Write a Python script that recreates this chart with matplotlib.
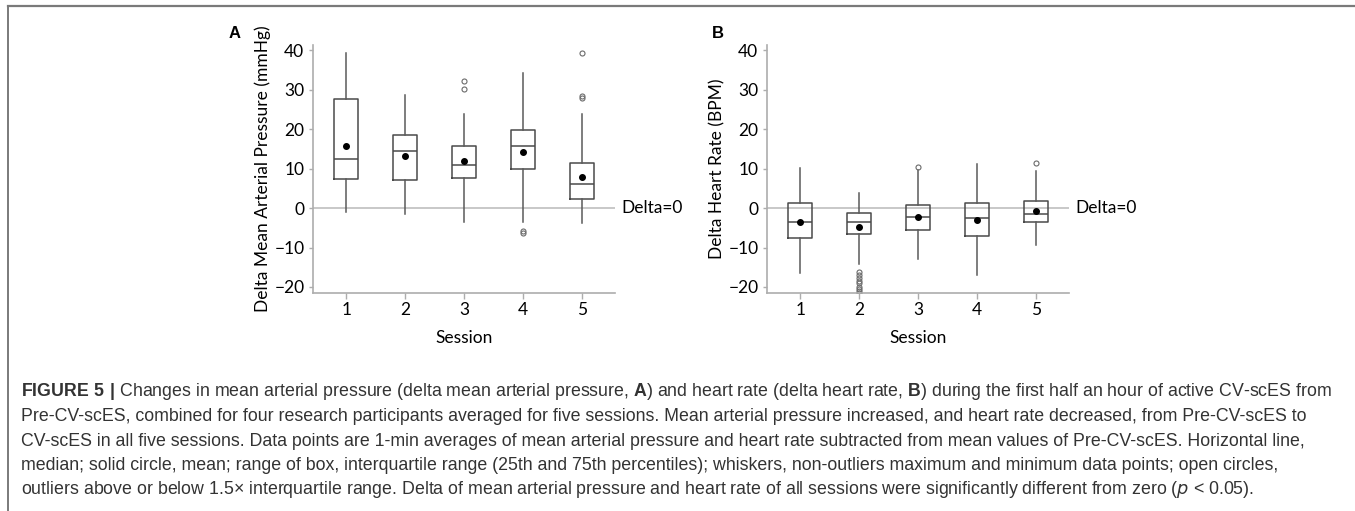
import matplotlib
matplotlib.use('Agg')
import matplotlib.pyplot as plt
import matplotlib.transforms as mtransforms
from matplotlib.lines import Line2D

# Box statistics (one value per session)
sessions = [1, 2, 3, 4, 5]

map_q1 = [7.3, 7.1, 7.7, 9.9, 2.3]
map_med = [12.5, 14.5, 10.9, 15.8, 6.1]
map_q3 = [27.5, 18.6, 15.6, 19.7, 11.5]
map_lo = [-1.0, -1.4, -3.5, -3.5, -3.9]
map_hi = [39.4, 28.7, 23.9, 34.3, 23.9]
map_mean = [15.8, 13.1, 11.9, 14.3, 7.8]
map_out = [[], [], [30.1, 32.3], [-5.7, -6.2], [28.0, 28.5, 39.4]]

hr_q1 = [-7.7, -6.5, -5.6, -7.1, -3.5]
hr_med = [-3.5, -3.5, -2.2, -2.5, -1.6]
hr_q3 = [1.3, -1.3, 0.7, 1.3, 1.7]
hr_lo = [-16.5, -14.1, -13.0, -16.9, -9.3]
hr_hi = [10.1, 3.9, 9.7, 11.1, 9.4]
hr_mean = [-3.5, -4.9, -2.2, -3.0, -0.7]
hr_out = [[], [-16.1, -16.9, -17.6, -18.4, -19.1, -19.9, -20.6, -21.0, -21.4],
          [10.4], [], [11.3]]

y_ticks = [-20, -10, 0, 10, 20, 30, 40]

caption_lines = [
    r'$\mathbf{FIGURE\ 5\ |}$ Changes in mean arterial pressure (delta mean arterial pressure, $\mathbf{A}$) '
    r'and heart rate (delta heart rate, $\mathbf{B}$) during the first half an hour of active CV-scES from',
    'Pre-CV-scES, combined for four research participants averaged for five sessions. Mean arterial pressure '
    'increased, and heart rate decreased, from Pre-CV-scES to',
    'CV-scES in all five sessions. Data points are 1-min averages of mean arterial pressure and heart rate '
    'subtracted from mean values of Pre-CV-scES. Horizontal line,',
    'median; solid circle, mean; range of box, interquartile range (25th and 75th percentiles); whiskers, '
    'non-outliers maximum and minimum data points; open circles,',
    'outliers above or below 1.5\u00d7 interquartile range. Delta of mean arterial pressure and heart rate of '
    r'all sessions were significantly different from zero ($\mathit{p}$ < 0.05).',
]

plt.rcParams['font.family'] = ['Lato', 'DejaVu Sans']
plt.rcParams['mathtext.fontset'] = 'custom'
plt.rcParams['mathtext.rm'] = 'Liberation Sans Narrow'
plt.rcParams['mathtext.bf'] = 'Liberation Sans:bold'
plt.rcParams['mathtext.it'] = 'Liberation Sans Narrow:italic'

W, H = 1355, 511
fig = plt.figure(figsize=(W / 100, H / 100), dpi=100)


def make_stats(q1, med, q3, lo, hi, mean, out):
    stats = []
    for i in range(len(q1)):
        stats.append({'q1': q1[i], 'med': med[i], 'q3': q3[i], 'whislo': lo[i],
                      'whishi': hi[i], 'mean': mean[i], 'fliers': out[i]})
    return stats


def draw_panel(ax, stats, ylabel, letter, letter_x):
    ax.axhline(0, color='#c8c8c8', lw=1.4, zorder=0)
    ax.bxp(stats, positions=sessions, widths=0.41, showcaps=False, showmeans=True,
           showfliers=True, patch_artist=False,
           boxprops=dict(color='#4a4a4a', lw=1.1),
           whiskerprops=dict(color='#5a5a5a', lw=1.1),
           medianprops=dict(color='#4a4a4a', lw=1.1),
           meanprops=dict(marker='o', markerfacecolor='black', markeredgecolor='black',
                          markersize=4.0),
           flierprops=dict(marker='o', markerfacecolor='none', markeredgecolor='#6a6a6a',
                           markersize=3.6, markeredgewidth=0.8))
    ax.set_xlim(0.43, 5.56)
    ax.set_ylim(-21.6, 41.3)
    ax.set_yticks(y_ticks)
    ax.set_xticks(sessions)
    ax.set_xticklabels([str(s) for s in sessions])
    for side in ['top', 'right']:
        ax.spines[side].set_visible(False)
    for side in ['left', 'bottom']:
        ax.spines[side].set_color('#adadad')
        ax.spines[side].set_linewidth(1.2)
    ax.tick_params(axis='x', length=4, width=1, color='#adadad', pad=2.5, labelsize=12.5)
    ax.tick_params(axis='y', length=3, width=1, color='#adadad', pad=3, labelsize=12.5)
    ax.set_ylabel(ylabel, fontsize=12.5)
    ax.yaxis.set_label_coords(-0.138, 0.5)
    ax.set_xlabel('Session', fontsize=12.5)
    ax.xaxis.set_label_coords(0.5, -0.148)
    trans = mtransforms.blended_transform_factory(ax.transAxes, ax.transData)
    ax.text(1.021, 0, 'Delta=0', transform=trans, va='center', ha='left', fontsize=12.5)
    ax.text(letter_x, 1.045, letter, transform=ax.transAxes, fontsize=12,
            fontweight='bold', family='Liberation Sans', ha='center', va='center')


axA = fig.add_axes([312.7 / W, 1 - 293.3 / H, 302.3 / W, 248.3 / H])
axB = fig.add_axes([766.7 / W, 1 - 293.3 / H, 302.6 / W, 248.3 / H])

draw_panel(axA, make_stats(map_q1, map_med, map_q3, map_lo, map_hi, map_mean, map_out),
           'Delta Mean Arterial Pressure (mmHg)', 'A', -0.26)
draw_panel(axB, make_stats(hr_q1, hr_med, hr_q3, hr_lo, hr_hi, hr_mean, hr_out),
           'Delta Heart Rate (BPM)', 'B', -0.163)

# page frame (top rule and left rule)
fig.add_artist(Line2D([8 / W, 1], [1 - 6.5 / H, 1 - 6.5 / H], transform=fig.transFigure,
                      color='#7a7a7a', lw=1.6))
fig.add_artist(Line2D([8 / W, 8 / W], [1 - 6.5 / H, 0], transform=fig.transFigure,
                      color='#7a7a7a', lw=1.4))

# caption
cap_texts = []
for i, line in enumerate(caption_lines):
    y = 392 + i * 24.5
    t = fig.text(21 / W, 1 - y / H, line, fontsize=11, family=['Liberation Sans Narrow', 'Liberation Sans'],
                 color='#333333', va='center', ha='left')
    cap_texts.append(t)
renderer = fig.canvas.get_renderer()
w0 = cap_texts[0].get_window_extent(renderer).width
fs = 11 * 1312 / w0
for t in cap_texts:
    t.set_fontsize(fs)

fig.savefig('out.png', dpi=100)
